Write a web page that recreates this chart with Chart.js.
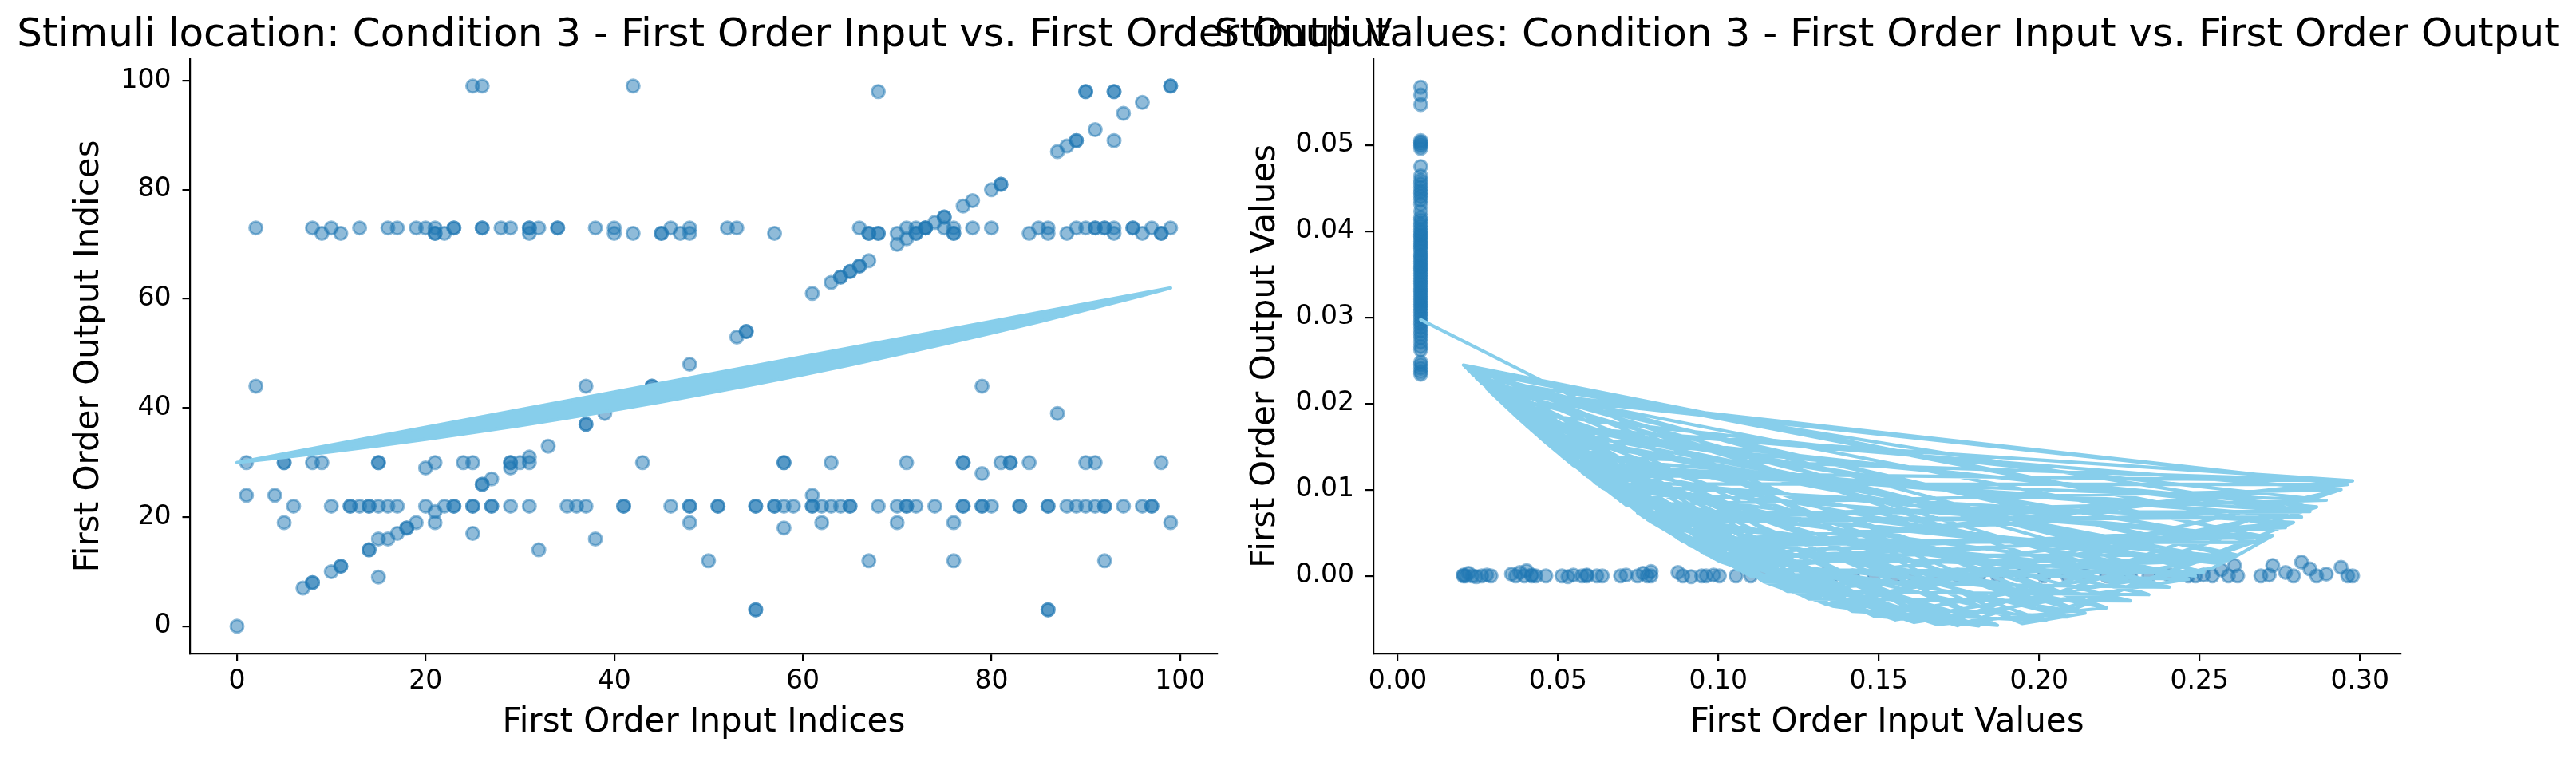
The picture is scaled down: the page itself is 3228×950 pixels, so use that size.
<!DOCTYPE html>
<html>
<head>
<meta charset="utf-8">
<script src="https://cdn.jsdelivr.net/npm/chart.js@4.4.0/dist/chart.umd.min.js"></script>
<style>
  html, body { margin: 0; padding: 0; background: #fff; }
  #wrap { position: relative; width: 3228px; height: 950px; }
  #wrap canvas { position: absolute; left: 0; top: 0; }
</style>
</head>
<body>
<div id="wrap">
  <canvas id="indexChart" width="3228" height="950"></canvas>
  <canvas id="valueChart" width="3228" height="950"></canvas>
</div>
<script>
// data kiri: indeks input vs indeks output (x, y)
var leftIndexPairs = [
  [25,99],[26,99],[42,99],[68,98],[90,98],[90,98],[93,98],[93,98],[99,99],[99,99],
  [96,96],[94,94],[91,91],[93,89],[89,89],[89,89],[88,88],[87,87],
  [81,81],[81,81],[80,80],[78,78],[77,77],[75,75],[75,75],[74,74],[73,73],[72,72],[71,71],[70,70],
  [67,67],[66,66],[66,66],[65,65],[65,65],[64,64],[64,64],[63,63],[61,61],
  [54,54],[54,54],[53,53],[48,48],[44,44],[44,44],[37,44],[2,44],[79,44],[39,39],[87,39],
  [37,37],[37,37],[33,33],[31,31],[27,27],[26,26],[26,26],
  [2,73],[8,73],[10,73],[13,73],[16,73],[17,73],[19,73],[20,73],[21,73],[23,73],[23,73],[26,73],
  [26,73],[28,73],[29,73],[31,73],[31,73],[32,73],[34,73],[34,73],[38,73],[40,73],[46,73],[48,73],
  [52,73],[53,73],[66,73],[71,73],[72,73],[73,73],[73,73],[75,73],[76,73],[78,73],[80,73],[85,73],
  [86,73],[89,73],[90,73],[91,73],[91,73],[92,73],[92,73],[93,73],[95,73],[95,73],[97,73],[99,73],
  [9,72],[11,72],[21,72],[21,72],[22,72],[31,72],[40,72],[42,72],[45,72],[45,72],[47,72],[48,72],
  [57,72],[67,72],[67,72],[68,72],[68,72],[70,72],[72,72],[76,72],[76,72],[84,72],[86,72],[88,72],
  [93,72],[96,72],[98,72],[98,72],
  [1,30],[5,30],[5,30],[8,30],[9,30],[15,30],[15,30],[21,30],[24,30],[25,30],[29,30],[29,30],
  [30,30],[31,30],[43,30],[58,30],[58,30],[63,30],[71,30],[77,30],[77,30],[81,30],[82,30],[82,30],
  [84,30],[90,30],[91,30],[98,30],[20,29],[29,29],[79,28],
  [1,24],[4,24],[61,24],
  [6,22],[10,22],[12,22],[12,22],[13,22],[14,22],[14,22],[15,22],[16,22],[17,22],[20,22],[22,22],
  [23,22],[23,22],[25,22],[25,22],[27,22],[27,22],[29,22],[31,22],[35,22],[36,22],[37,22],[41,22],
  [41,22],[46,22],[48,22],[48,22],[51,22],[51,22],[55,22],[55,22],[57,22],[57,22],[58,22],[59,22],
  [61,22],[61,22],[62,22],[63,22],[64,22],[65,22],[65,22],[68,22],[70,22],[71,22],[71,22],[72,22],
  [74,22],[77,22],[77,22],[79,22],[79,22],[80,22],[83,22],[83,22],[86,22],[86,22],[88,22],[89,22],
  [90,22],[91,22],[92,22],[92,22],[94,22],[96,22],[97,22],[97,22],
  [21,21],[5,19],[21,19],[48,19],[62,19],[70,19],[76,19],[99,19],
  [25,17],[15,16],[16,16],[17,17],[18,18],[18,18],[19,19],[14,14],[14,14],[11,11],[11,11],[10,10],
  [8,8],[8,8],[7,7],[15,9],[0,0],[32,14],[58,18],[38,16],[50,12],[67,12],[76,12],[92,12],
  [55,3],[55,3],[86,3],[86,3]
];

// garis fit kiri (kurva polinomial dari x = 0 sampai 99, lalu kembali ke awal)
var leftFitInputs = [0, 5, 10, 15, 20, 25, 30, 35, 40, 45, 50, 55, 60, 65, 70, 75, 80, 85, 90, 95, 99, 0];
var leftFitOutputs = [30.00, 30.95, 31.98, 33.07, 34.24, 35.47, 36.78, 38.15, 39.60, 41.12, 42.71,
  44.36, 46.09, 47.89, 49.76, 51.70, 53.71, 55.79, 57.95, 60.17, 62.00, 30.00];

// data kanan: nilai input vs nilai output
var rightColumnOutputs = [0.0567, 0.0558, 0.0547, 0.0505, 0.0503, 0.0501, 0.0499, 0.0496, 0.0475,
  0.0464, 0.0459, 0.0455, 0.0451, 0.0447, 0.0444, 0.0440, 0.0436, 0.0431, 0.0423, 0.0416, 0.0413,
  0.0409, 0.0406, 0.0402, 0.0399, 0.0396, 0.0394, 0.0391, 0.0388, 0.0385, 0.0383, 0.0380, 0.0377,
  0.0373, 0.0371, 0.0368, 0.0365, 0.0362, 0.0359, 0.0357, 0.0354, 0.0351, 0.0348, 0.0345, 0.0342,
  0.0339, 0.0336, 0.0333, 0.0330, 0.0327, 0.0324, 0.0321, 0.0318, 0.0315, 0.0312, 0.0309, 0.0306,
  0.0302, 0.0299, 0.0295, 0.0292, 0.0288, 0.0284, 0.0280, 0.0276, 0.0271, 0.0266, 0.0262, 0.0248,
  0.0245, 0.0241, 0.0237, 0.0234];
var rightColumnInput = 0.0072;

var rightRowPairs = [
  [0.0205,0.0001],[0.0205,0.0000],[0.0212,0.0000],[0.0221,0.0003],[0.0233,0.0000],[0.0245,-0.0001],
  [0.0262,0.0000],[0.0278,0.0001],[0.0291,0.0000],[0.0355,0.0002],[0.0368,0.0000],[0.0381,0.0004],
  [0.0395,0.0000],[0.0402,0.0006],[0.0418,0.0000],[0.0418,0.0001],[0.0431,0.0000],[0.0462,0.0000],
  [0.0512,0.0000],[0.0531,-0.0001],[0.0548,0.0001],[0.0575,0.0000],[0.0590,0.0000],[0.0590,0.0001],
  [0.0621,0.0000],[0.0638,0.0000],[0.0695,0.0000],[0.0712,0.0001],[0.0748,0.0000],[0.0765,0.0003],
  [0.0778,0.0000],[0.0790,0.0005],[0.0790,0.0000],[0.0874,0.0004],[0.0889,0.0000],[0.0915,-0.0001],
  [0.0948,0.0000],[0.0962,0.0000],[0.0985,0.0001],[0.1003,0.0000],[0.1055,0.0000],[0.1101,0.0000],
  [0.1142,0.0001],[0.1215,0.0000],[0.1282,0.0000],[0.1334,0.0002],[0.1356,0.0000],[0.1418,0.0000],
  [0.1485,0.0001],[0.1552,0.0000],[0.1610,0.0000],[0.1683,0.0000],[0.1745,0.0001],[0.1812,0.0000],
  [0.1870,0.0000],[0.1947,0.0002],[0.2015,0.0000],[0.2088,0.0000],[0.2143,0.0001],[0.2210,0.0000],
  [0.2285,0.0000],[0.2342,0.0000],[0.2405,0.0001],[0.2465,0.0000],[0.2487,0.0000],[0.2512,0.0001],
  [0.2540,0.0000],[0.2568,0.0007],[0.2590,0.0000],[0.2609,0.0012],[0.2619,0.0000],[0.2691,0.0000],
  [0.2717,0.0001],[0.2728,0.0012],[0.2768,0.0004],[0.2793,0.0000],[0.2818,0.0016],[0.2844,0.0008],
  [0.2865,0.0000],[0.2895,0.0002],[0.2941,0.0010],[0.2962,0.0000],[0.2977,0.0000]
];

// garis fit kanan, urutan titik sesuai urutan data (tidak diurutkan)
var rightFitInputs = [0.0072, 0.1947, 0.0368, 0.2568, 0.0638, 0.1485, 0.0221, 0.2768, 0.0205, 0.1683,
  0.0889, 0.2865, 0.0431, 0.1215, 0.0765, 0.2405, 0.0262, 0.2619, 0.0962, 0.1334, 0.0402, 0.2977,
  0.0575, 0.1812, 0.1055, 0.2512, 0.0291, 0.2210, 0.0790, 0.2818, 0.0512, 0.1418, 0.0233, 0.2088,
  0.0712, 0.2941, 0.0395, 0.1610, 0.0915, 0.2717, 0.0590, 0.2342, 0.0212, 0.1552, 0.1003, 0.2590,
  0.0418, 0.1870, 0.0778, 0.2895, 0.0355, 0.1282, 0.0695, 0.2487, 0.0531, 0.2143, 0.0948, 0.2962,
  0.0278, 0.1356, 0.1142, 0.2793, 0.0621, 0.1745, 0.0381, 0.2691, 0.0874, 0.2015, 0.0462, 0.2465,
  0.0245, 0.1101, 0.0748, 0.2844, 0.0548, 0.2285, 0.0985, 0.2728, 0.2609, 0.2540,
  0.1552, 0.0355, 0.2088, 0.1334, 0.2865, 0.1745, 0.0874, 0.2285, 0.1282, 0.0233,
  0.1870, 0.1485, 0.2619, 0.1215, 0.2342, 0.0590, 0.1610, 0.2465, 0.1055, 0.2793,
  0.2015, 0.1418, 0.0418, 0.2210, 0.1683, 0.2941, 0.1356, 0.1812, 0.0748, 0.2405,
  0.1142, 0.0205, 0.2143, 0.1947, 0.2728, 0.0915, 0.0395, 0.2590, 0.1101, 0.0531,
  0.2818, 0.0778, 0.0962, 0.2768, 0.0212, 0.0985, 0.0431, 0.2568, 0.0695, 0.2487,
  0.0790, 0.1003, 0.0368, 0.2691, 0.0889, 0.0575, 0.2895, 0.0765, 0.0221, 0.2512,
  0.0948, 0.2977, 0.0512, 0.0712, 0.2609, 0.0262, 0.2717, 0.0638, 0.0402, 0.2844,
  0.0245, 0.0621, 0.2962, 0.0291, 0.0381, 0.0462, 0.0548, 0.0278];
var rightFitOutputs = [0.02974, -0.00552, 0.01857, 0.00141, 0.01021, -0.00466, 0.02385, 0.00561,
  0.02446, -0.00565, 0.00401, 0.00799, 0.01646, -0.00179, 0.00688, -0.00131, 0.02233, 0.00239,
  0.00249, -0.00327, 0.01742, 0.01102, 0.01200, -0.00580, 0.00074, 0.00040, 0.02127, -0.00371,
  0.00627, 0.00681, 0.01389, -0.00411, 0.02340, -0.00476, 0.00822, 0.01001, 0.01765, -0.00540,
  0.00345, 0.00445, 0.01157, -0.00218, 0.02420, -0.00510, 0.00169, 0.00182, 0.01689, -0.00573,
  0.00656, 0.00877, 0.01901, -0.00267, 0.00867, -0.00002, 0.01331, -0.00433, 0.00277, 0.01060,
  0.02174, -0.00351, -0.00071, 0.00620, 0.01068, -0.00577, 0.01812, 0.00388, 0.00434, -0.00521,
  0.01546, -0.00038, 0.02296, -0.00005, 0.00730, 0.00746, 0.01280, -0.00290, 0.00203, 0.00469,
  0.00219, 0.00090,
  -0.00510, 0.01901, -0.00476, -0.00327, 0.00799, -0.00577, 0.00434, -0.00290, -0.00267, 0.02340,
  -0.00573, -0.00466, 0.00239, -0.00179, -0.00218, 0.01157, -0.00540, -0.00038, 0.00074, 0.00620,
  -0.00521, -0.00411, 0.01689, -0.00371, -0.00565, 0.01001, -0.00351, -0.00580, 0.00730, -0.00131,
  -0.00071, 0.02446, -0.00433, -0.00552, 0.00469, 0.00345, 0.01765, 0.00182, -0.00005, 0.01331,
  0.00681, 0.00656, 0.00249, 0.00561, 0.02420, 0.00203, 0.01646, 0.00141, 0.00867, -0.00002,
  0.00627, 0.00169, 0.01857, 0.00388, 0.00401, 0.01200, 0.00877, 0.00688, 0.02385, 0.00040,
  0.00277, 0.01102, 0.01389, 0.00822, 0.00219, 0.02233, 0.00445, 0.01021, 0.01742, 0.00746,
  0.02296, 0.01068, 0.01060, 0.02127, 0.01812, 0.01546, 0.01280, 0.02174];

// label tick
var leftXTicks = [0, 20, 40, 60, 80, 100];
var leftYTicks = [0, 20, 40, 60, 80, 100];
var rightXTicks = [0.00, 0.05, 0.10, 0.15, 0.20, 0.25, 0.30];
var rightYTicks = [0.00, 0.01, 0.02, 0.03, 0.04, 0.05];

var pointColor = 'rgba(31, 119, 180, 0.5)';
var fitColor = '#87CEEB';

Chart.defaults.font.family = '"DejaVu Sans"';
Chart.defaults.color = '#000';

// judul subplot, ditengahkan di atas area plot
var subplotTitle = {
    id: 'subplotTitle',
    afterDraw: function (chart, args, opts) {
        var ctx = chart.ctx;
        var area = chart.chartArea;
        ctx.save();
        ctx.font = '50px "DejaVu Sans"';
        ctx.fillStyle = '#000';
        ctx.textAlign = 'center';
        ctx.textBaseline = 'alphabetic';
        ctx.fillText(opts.text, (area.left + area.right) / 2, 58);
        ctx.restore();
    }
};

function toPoints(xs, ys) {
    return xs.map(function (x, i) { return { x: x, y: ys[i] }; });
}

function pairsToPoints(pairs) {
    return pairs.map(function (p) { return { x: p[0], y: p[1] }; });
}

// sumbu bergaya matplotlib: hanya garis kiri/bawah dan tick keluar
function makeAxis(opt) {
    return {
        type: 'linear',
        min: opt.min,
        max: opt.max,
        afterBuildTicks: function (scale) {
            scale.ticks = opt.ticks.map(function (v) { return { value: v }; });
        },
        afterFit: function (scale) {
            if (opt.isX) { scale.height = opt.size; } else { scale.width = opt.size; }
        },
        ticks: {
            font: { size: 33 },
            padding: opt.isX ? 6 : 14,
            autoSkip: false,
            maxRotation: 0,
            callback: function (value) { return value.toFixed(opt.decimals); }
        },
        grid: {
            drawOnChartArea: false,
            drawTicks: true,
            tickLength: 10,
            color: '#000',
            lineWidth: 2.2
        },
        border: { display: true, color: '#000', width: 2.2 },
        title: {
            display: true,
            text: opt.title,
            font: { size: 42 },
            padding: opt.isX ? { top: 0, bottom: 19 } : { top: opt.titlePad, bottom: 0 }
        }
    };
}

function renderChart(canvasId, cfg) {
    var ctx = document.getElementById(canvasId).getContext('2d');
    return new Chart(ctx, {
        type: 'scatter',
        data: {
            datasets: [{
                label: 'fit',
                data: cfg.fitData,
                showLine: true,
                borderColor: fitColor,
                backgroundColor: fitColor,
                borderWidth: 4.2,
                borderJoinStyle: 'round',
                borderCapStyle: 'round',
                pointRadius: 0,
                fill: cfg.fillFit ? 'shape' : false,
                tension: 0,
                order: 0
            }, {
                label: 'data',
                data: cfg.pointData,
                backgroundColor: pointColor,
                borderColor: pointColor,
                borderWidth: 3,
                pointRadius: 8,
                order: 1
            }]
        },
        options: {
            responsive: false,
            animation: false,
            devicePixelRatio: 1,
            layout: { padding: cfg.padding },
            plugins: {
                legend: { display: false },
                tooltip: { enabled: false },
                subplotTitle: { text: cfg.title }
            },
            scales: {
                x: makeAxis(cfg.x),
                y: makeAxis(cfg.y)
            }
        },
        plugins: [subplotTitle]
    });
}

document.addEventListener('DOMContentLoaded', function () {
    var rightPoints = rightColumnOutputs.map(function (y) { return { x: rightColumnInput, y: y }; })
        .concat(pairsToPoints(rightRowPairs));

    renderChart('indexChart', {
        title: 'Stimuli location: Condition 3 - First Order Input vs. First Order Output',
        padding: { left: 0, right: 1702.6, top: 74, bottom: 0 },
        fitData: toPoints(leftFitInputs, leftFitOutputs),
        fillFit: true,
        pointData: pairsToPoints(leftIndexPairs),
        x: { min: -4.95, max: 103.95, ticks: leftXTicks, decimals: 0, isX: true, size: 131.3,
             title: 'First Order Input Indices' },
        y: { min: -4.95, max: 103.95, ticks: leftYTicks, decimals: 0, isX: false, size: 238.5,
             title: 'First Order Output Indices', titlePad: 87 }
    });

    renderChart('valueChart', {
        title: 'Stimuli Values: Condition 3 - First Order Input vs. First Order Output',
        padding: { left: 1500, right: 219.7, top: 74, bottom: 0 },
        fitData: toPoints(rightFitInputs, rightFitOutputs),
        fillFit: false,
        pointData: rightPoints,
        x: { min: -0.00756, max: 0.3127, ticks: rightXTicks, decimals: 2, isX: true, size: 131.3,
             title: 'First Order Input Values' },
        y: { min: -0.00898, max: 0.05997, ticks: rightYTicks, decimals: 2, isX: false, size: 221,
             title: 'First Order Output Values', titlePad: 61 }
    });
});
</script>
</body>
</html>
